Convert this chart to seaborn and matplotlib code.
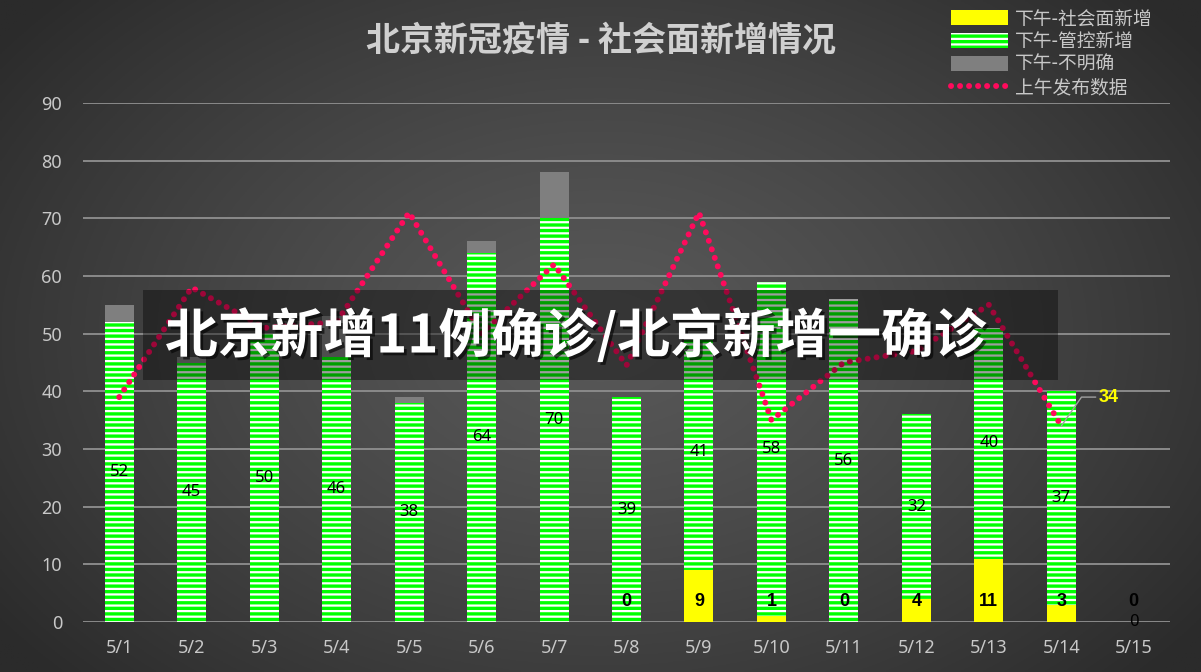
import numpy as np
import pandas as pd
import matplotlib
matplotlib.use("Agg")
import matplotlib.pyplot as plt
import matplotlib.patheffects as pe
from matplotlib.patches import Patch, Rectangle
from matplotlib.lines import Line2D
import seaborn as sns

# data
dates = ["5/1", "5/2", "5/3", "5/4", "5/5", "5/6", "5/7", "5/8",
         "5/9", "5/10", "5/11", "5/12", "5/13", "5/14", "5/15"]
social = [None, None, None, None, None, None, None, 0, 9, 1, 0, 4, 11, 3, 0]   # 下午-社会面新增
control = [52, 45, 50, 46, 38, 64, 70, 39, 41, 58, 56, 32, 40, 37, 0]       # 下午-管控新增
unclear = [3, 1, 0, 7, 1, 2, 8, 0, 0, 0, 0, 0, 0, 0, 0]                      # 下午-不明确
morning = [39, 58, 51, 52, 71, 50, 62, 44.5, 71, 35, 45, 47, 55, 34, None]   # 上午发布数据

df = pd.DataFrame({"date": dates, "social": social, "control": control,
                   "unclear": unclear, "morning": morning})
df["social0"] = df["social"].fillna(0)
df["sc"] = df["social0"] + df["control"]
df["total"] = df["sc"] + df["unclear"]
df["pos"] = np.arange(len(df))

YELLOW = "#FFFF00"
GREEN = "#00FF00"
GRAY = "#7F7F7F"
PINK = "#FF0A5C"
TXT = "#C8C8C8"
CJK = ["Noto Sans CJK SC", "DejaVu Sans"]

sns.set_style("dark")
plt.rcParams["font.family"] = ["Noto Sans", "Noto Sans CJK SC", "DejaVu Sans"]
plt.rcParams["hatch.linewidth"] = 2.4

fig = plt.figure(figsize=(12.01, 6.72), dpi=100)

# background radial gradient
bg = fig.add_axes([0, 0, 1, 1], zorder=-5)
yy, xx = np.mgrid[0:1:300j, 0:1:500j]
r = np.sqrt(((xx - 0.5) / 0.62) ** 2 + ((yy - 0.5) / 0.75) ** 2)
r = np.clip(r, 0, 1)
light, dark = 0x58 / 255, 0x2B / 255
img = light + (dark - light) * r ** 1.3
bg.imshow(np.dstack([img, img, img]), aspect="auto", extent=[0, 1, 0, 1])
bg.set_axis_off()

ax = fig.add_axes([83 / 1201, 1 - 622 / 672, 1087 / 1201, 519 / 672])
ax.set_facecolor("none")

# stacked bars, drawn back to front
sns.barplot(data=df, x="date", y="total", order=dates, color=GRAY,
            saturation=1, width=0.4, linewidth=0, ax=ax)
sns.barplot(data=df, x="date", y="sc", order=dates, color="white",
            saturation=1, width=0.4, linewidth=0, ax=ax)
n = len(dates)
for p in ax.patches[n:2 * n]:
    p.set_hatch("---")
    p.set_edgecolor(GREEN)
    p.set_linewidth(0)
sns.barplot(data=df, x="date", y="social0", order=dates, color=YELLOW,
            saturation=1, width=0.4, linewidth=0, ax=ax)

# morning line
sns.lineplot(data=df.dropna(subset=["morning"]), x="pos", y="morning",
             color=PINK, linewidth=4.3, ax=ax, zorder=4)
ln = ax.lines[-1]
ln.set_linestyle((0, (0.01, 1.5)))
ln.set_dash_capstyle("round")

# labels
for i, row in df.iterrows():
    ax.text(i, row["social0"] + row["control"] / 2, f"{int(row['control'])}",
            ha="center", va="center", fontsize=12, color="black", zorder=5)
    if not pd.isna(row["social"]):
        ax.text(i, 3.5, f"{int(row['social'])}", ha="center", va="center",
                fontsize=13, fontweight="bold", color="black",
                family="Liberation Sans", zorder=6)

last = df.dropna(subset=["morning"]).iloc[-1]
ax.annotate(f"{int(last['morning'])}", xy=(last["pos"], last["morning"]),
            xytext=(last["pos"] + 0.52, last["morning"] + 5),
            ha="left", va="center", fontsize=13, fontweight="bold",
            color=YELLOW, family="Liberation Sans",
            arrowprops=dict(arrowstyle="-", color="#A0A0A0", lw=1,
                            shrinkA=0, shrinkB=0,
                            connectionstyle="angle,angleA=0,angleB=55,rad=0",
                            relpos=(0, 0.5)))

ax.set_ylim(0, 90)
ax.set_xlim(-0.5, 14.5)
ax.set_yticks(range(0, 91, 10))
ax.grid(axis="y", color="#8A8A8A", linewidth=1.4)
ax.grid(axis="x", visible=False)
ax.set_axisbelow(True)
for s in ax.spines.values():
    s.set_visible(False)
ax.set_xlabel("")
ax.set_ylabel("")
ax.tick_params(axis="both", length=0, colors=TXT, labelsize=13)
ax.tick_params(axis="y", pad=15)
ax.tick_params(axis="x", pad=12)

# title
fig.text(0.5, 1 - 40 / 672, "北京新冠疫情 - 社会面新增情况", ha="center", va="center",
         fontsize=24.5, color="#D0D0D0", family=CJK, fontweight="bold")

# legend
handles = [Patch(facecolor=YELLOW, edgecolor="none"),
           Patch(facecolor="white", edgecolor=GREEN, hatch="---", linewidth=0),
           Patch(facecolor=GRAY, edgecolor="none"),
           Line2D([0], [0], color=PINK, linewidth=4.3, linestyle=(0, (0.01, 1.5)),
                  dash_capstyle="round")]
labels = ["下午-社会面新增", "下午-管控新增", "下午-不明确", "上午发布数据"]
leg = fig.legend(handles, labels, loc="upper left",
                 bbox_to_anchor=(942 / 1201, 1 + 1 / 672), frameon=False,
                 handlelength=3.0, handleheight=0.85,
                 handletextpad=0.4, labelspacing=0.1, borderpad=0,
                 prop={"family": CJK, "size": 13.5})
for t in leg.get_texts():
    t.set_color(TXT)

# headline banner
fig.patches.append(Rectangle((143 / 1201, 1 - 380 / 672), 915 / 1201, 90 / 672,
                             transform=fig.transFigure, facecolor="black",
                             alpha=0.38, edgecolor="none", zorder=10))
fig.text(165 / 1201, 1 - 336 / 672, "北京新增11例确诊/北京新增一确诊",
         ha="left", va="center", fontsize=38, color="white", fontweight="black",
         family=CJK, zorder=11,
         path_effects=[pe.withSimplePatchShadow(offset=(2, -2), shadow_rgbFace="black",
                                                alpha=0.6)])

fig.savefig("out.png", dpi=100)
